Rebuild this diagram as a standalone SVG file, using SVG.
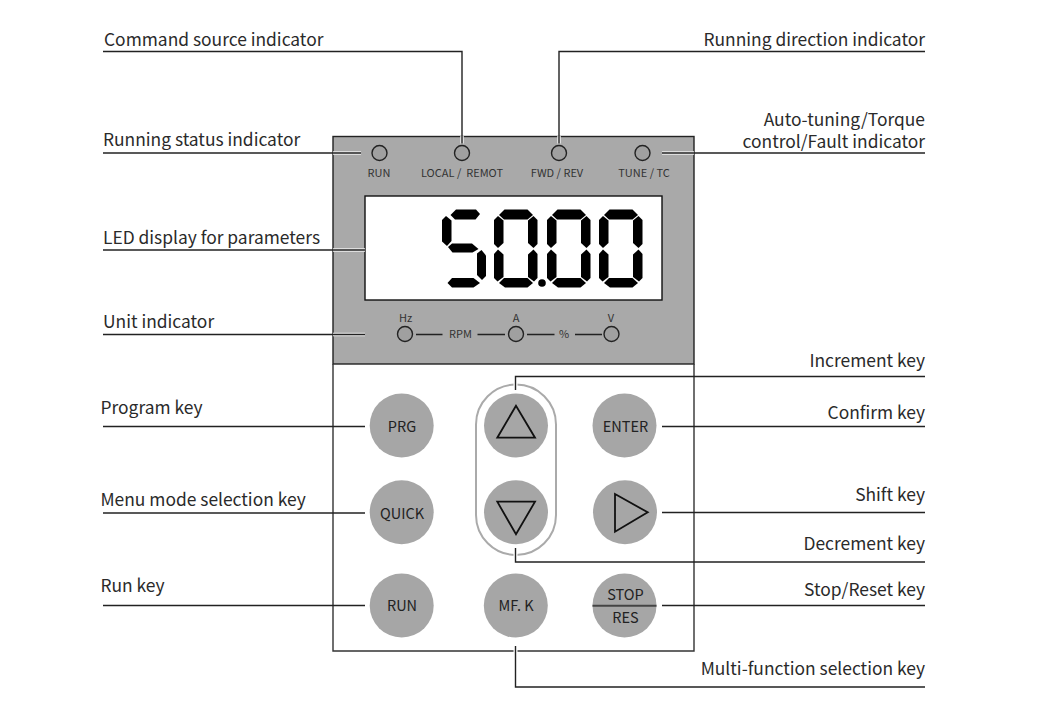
<svg xmlns="http://www.w3.org/2000/svg" width="1050" height="706" viewBox="0 0 1050 706">
<style>
text{font-family:"Noto Sans CJK SC","Noto Sans",sans-serif;fill:#2a2a2a}
.l{font-size:17.400px}
.e{text-anchor:end}
.s{font-size:11px;text-anchor:middle;fill:#333;white-space:pre}
.k{font-size:14.500px;text-anchor:middle;fill:#222}
.c{fill:none;stroke:#222;stroke-width:1.400}
.h{fill:none;stroke:#eee;stroke-width:3.500}
.w{fill:none;stroke:#fff;stroke-width:4}
.led{fill:#a0a0a0;stroke:#222;stroke-width:1.400}
.key{fill:#a6a6a6}
.sym{fill:none;stroke:#111;stroke-width:1.800}
.seg{fill:#000}
</style>
<defs>
<g id="digit">
<path d="M499 215L504.500 209.500H527.500L533 215L527.500 219.500H504Z"/>
<path d="M494 220L498 216L503.500 220.500V243L498 248L494 244Z"/>
<path d="M537.500 220L533.500 216L528 220.500V243L533.500 248L537.500 244Z"/>
<path d="M494 254L498 249.500L503.500 254.500V277L497.500 281.500L494 278Z"/>
<path d="M537.500 254L533.500 249.500L528 254.500V277L534 281.500L537.500 278Z"/>
<path d="M499 283L504 278H527.500L533 283L527.500 287.500H505Z"/>
</g>
</defs>
<rect width="1050" height="706" fill="#fff"/>
<g id="panel">
<rect x="333" y="136.500" width="361" height="227.500" fill="#a9a9a9" stroke="#222" stroke-width="1.400"/>
<path d="M333 364V651H694V364" fill="none" stroke="#333" stroke-width="1.400"/>
</g>
<g id="display">
<rect x="365" y="196" width="297" height="104" fill="#fff" stroke="#111" stroke-width="1.400"/>
<g class="seg">
<path d="M450.500 215L456 209.500H476L480 214L475.500 219.500H455Z"/>
<path d="M442 220L446 216L451.500 220.500V241L447 246L442 241.500Z"/>
<path d="M448 247L452 243.500H472L478.500 249L472.500 252.500H452.500Z"/>
<path d="M486 255.500L481.500 250L477 253.500V275L482 280L486 276Z"/>
<path d="M447.500 283L452 278H473.500L480 283L473.500 287.500H452Z"/>
<use href="#digit" x="0"/>
<use href="#digit" x="53"/>
<use href="#digit" x="105"/>
<circle cx="542" cy="283" r="3.800"/>
</g>
</g>
<g id="led-run"><circle class="led" cx="379.500" cy="153" r="7.500"/><text class="s" x="379" y="177">RUN</text></g>
<g id="led-local"><circle class="led" cx="462" cy="153" r="7.500"/><text class="s" x="462" y="177">LOCAL /  REMOT</text></g>
<g id="led-fwd"><circle class="led" cx="559" cy="153" r="7.500"/><text class="s" x="557" y="177">FWD / REV</text></g>
<g id="led-tune"><circle class="led" cx="642.500" cy="153" r="7.500"/><text class="s" x="644" y="177">TUNE / TC</text></g>
<g id="led-hz"><circle class="led" cx="405" cy="334" r="7.500"/><text class="s" x="405.500" y="322">Hz</text></g>
<g id="led-a"><circle class="led" cx="516" cy="334" r="7.500"/><text class="s" x="516" y="322">A</text></g>
<g id="led-v"><circle class="led" cx="611.500" cy="334" r="7.500"/><text class="s" x="611" y="322">V</text></g>
<g id="units">
<path d="M416 334.500H442.500M477.500 334.500H505M527 334.500H554.500M575 334.500H602" fill="none" stroke="#222" stroke-width="1.300"/>
<text class="s" x="460.500" y="338">RPM</text>
<text class="s" x="564" y="338">%</text>
</g>
<g id="key-prg"><circle class="key" cx="401.700" cy="425.500" r="32"/><text class="k" x="402" y="431.500">PRG</text></g>
<g id="key-quick"><circle class="key" cx="401.700" cy="512.300" r="32"/><text class="k" x="402" y="518.500">QUICK</text></g>
<g id="key-run"><circle class="key" cx="401.700" cy="605.500" r="32"/><text class="k" x="402" y="610.500">RUN</text></g>
<g id="key-group"><rect x="476" y="384.500" width="80" height="170.500" rx="40" fill="none" stroke="#aaa" stroke-width="2"/></g>
<g id="key-up"><circle class="key" cx="516" cy="425.500" r="32"/><path class="sym" d="M516 405.700L497.300 437.700H535Z"/></g>
<g id="key-down"><circle class="key" cx="516" cy="512.300" r="32"/><path class="sym" d="M497.300 501.700H535L516 534.300Z"/></g>
<g id="key-mfk"><circle class="key" cx="515.800" cy="605.500" r="32"/><text class="k" x="516" y="610.500">MF. K</text></g>
<g id="key-enter"><circle class="key" cx="624.500" cy="425.500" r="32"/><text class="k" x="625.500" y="431.500">ENTER</text></g>
<g id="key-shift"><circle class="key" cx="625" cy="512.300" r="32"/><path class="sym" d="M615 494L647.700 512.300L615 531.700Z"/></g>
<g id="key-stop"><circle class="key" cx="624.500" cy="605.500" r="32"/><path d="M592.500 605.700H656.500" stroke="#444" stroke-width="2"/><text class="k" x="625.500" y="600">STOP</text><text class="k" x="625.500" y="623">RES</text></g>
<g id="connectors">
<path class="h" d="M333 153H361M662 153H694M333 250H365M333 334.500H365M462 136V143.500M559 136V143.500"/>
<path class="w" d="M515.500 381V392M515.500 546V558M515.500 648V654"/>
<path class="c" d="M103 51.500H462V143.500"/>
<path class="c" d="M925 51.500H559V143.500"/>
<path class="c" d="M103 153H361"/>
<path class="c" d="M925 153H662"/>
<path class="c" d="M103 250H365"/>
<path class="c" d="M103 334.500H365"/>
<path class="c" d="M103 426.500H365"/>
<path class="c" d="M103 513H365"/>
<path class="c" d="M103 605.500H365"/>
<path class="c" d="M925 376.500H515.500V390"/>
<path class="c" d="M925 426.500H662"/>
<path class="c" d="M925 512.500H662"/>
<path class="c" d="M925 562H515.500V548"/>
<path class="c" d="M925 605.500H662"/>
<path class="c" d="M925 687H515.500V646"/>
</g>
<g id="labels">
<text class="l" x="104" y="46">Command source indicator</text>
<text class="l" x="103" y="146">Running status indicator</text>
<text class="l" x="103" y="244">LED display for parameters</text>
<text class="l" x="103" y="328">Unit indicator</text>
<text class="l" x="100.500" y="414">Program key</text>
<text class="l" x="100.500" y="506">Menu mode selection key</text>
<text class="l" x="100.500" y="592">Run key</text>
<text class="l e" x="925" y="46">Running direction indicator</text>
<text class="l e" x="925" y="126">Auto-tuning/Torque</text>
<text class="l e" x="925" y="148">control/Fault indicator</text>
<text class="l e" x="925" y="367">Increment key</text>
<text class="l e" x="925" y="419">Confirm key</text>
<text class="l e" x="925" y="501">Shift key</text>
<text class="l e" x="925" y="550">Decrement key</text>
<text class="l e" x="925" y="596">Stop/Reset key</text>
<text class="l e" x="925" y="675">Multi-function selection key</text>
</g>
</svg>
